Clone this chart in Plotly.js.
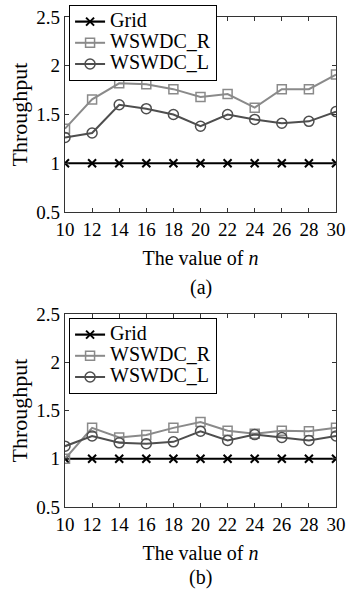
<!DOCTYPE html>
<html>
<head>
<meta charset="utf-8">
<script src="https://cdn.plot.ly/plotly-3.0.1.min.js"></script>
<style>html,body{margin:0;padding:0;background:#fff;}#chart{width:347px;height:589px;}</style>
</head>
<body>
<div id="chart"></div>
<script>
const nValues = [10, 12, 14, 16, 18, 20, 22, 24, 26, 28, 30];
const gridA = [1, 1, 1, 1, 1, 1, 1, 1, 1, 1, 1];
const wswdcRA = [1.355, 1.655, 1.82, 1.81, 1.76, 1.68, 1.71, 1.57, 1.76, 1.76, 1.91];
const wswdcLA = [1.265, 1.31, 1.60, 1.56, 1.50, 1.38, 1.50, 1.45, 1.41, 1.43, 1.53];
const gridB = [1, 1, 1, 1, 1, 1, 1, 1, 1, 1, 1];
const wswdcRB = [1.0, 1.32, 1.22, 1.245, 1.32, 1.38, 1.29, 1.26, 1.29, 1.285, 1.32];
const wswdcLB = [1.13, 1.235, 1.165, 1.155, 1.175, 1.285, 1.19, 1.25, 1.22, 1.19, 1.235];
const xTicks = [10, 12, 14, 16, 18, 20, 22, 24, 26, 28, 30];
const yTicks = [0.5, 1, 1.5, 2, 2.5];
const yTickText = ["0.5", "1", "1.5", "2", "2.5"];
const seriesNames = ["Grid", "WSWDC_R", "WSWDC_L"];
const panelLabels = ["(a)", "(b)"];
const xTitle = "The value of <i>n</i>";
const yTitle = "Throughput";

const FONT = "Liberation Serif, Times New Roman, serif";
const colors = ["#000000", "#8a8a8a", "#4e4e4e"];

function makeTraces(vals, xa, ya, leg) {
  const symbols = ["x-thin-open", "square-open", "circle-open"];
  const sizes = [8, 9, 10];
  const widths = [2.2, 2, 2];
  return vals.map((v, i) => ({
    x: nValues, y: v, type: "scatter", mode: "lines+markers",
    name: '<span style="font-size:20px">' + seriesNames[i] + '</span>',
    xaxis: xa, yaxis: ya, legend: leg,
    line: {color: colors[i], width: widths[i]},
    marker: {symbol: symbols[i], size: sizes[i], color: colors[i],
             line: {color: colors[i], width: i === 0 ? 2 : 1.5}}
  }));
}

const data = [
  ...makeTraces([gridA, wswdcRA, wswdcLA], "x", "y", "legend"),
  ...makeTraces([gridB, wswdcRB, wswdcLB], "x2", "y2", "legend2")
];

function xAxis(anchor) {
  return {
    anchor: anchor, range: [10, 30], tickvals: xTicks, ticks: "inside", ticklen: 4,
    tickcolor: "#333", showline: true, linecolor: "#333", linewidth: 1.2, mirror: "ticks",
    showgrid: false, zeroline: false, tickfont: {family: FONT, size: 19, color: "#000"},
    title: {text: xTitle, font: {family: FONT, size: 20, color: "#000"}, standoff: 12}
  };
}
function yAxis(anchor, domain) {
  return {
    anchor: anchor, domain: domain, range: [0.5, 2.5], tickvals: yTicks, ticktext: yTickText,
    ticks: "inside", ticklen: 4, tickcolor: "#333", showline: true, linecolor: "#333",
    linewidth: 1.2, mirror: "ticks", showgrid: false, zeroline: false,
    tickfont: {family: FONT, size: 19, color: "#000"},
    title: {text: yTitle, font: {family: FONT, size: 22, color: "#000"}, standoff: 2}
  };
}
function legendCfg(y) {
  return {
    x: 0.015, y: y, xanchor: "left", yanchor: "top", xref: "paper", yref: "paper",
    bgcolor: "#fff", bordercolor: "#000", borderwidth: 1,
    font: {family: FONT, size: 14, color: "#000"}, tracegroupgap: 0, itemwidth: 30
  };
}

const layout = {
  width: 347, height: 589,
  margin: {l: 65, r: 10.5, t: 17, b: 82, autoexpand: false},
  paper_bgcolor: "#fff", plot_bgcolor: "#fff",
  showlegend: true,
  xaxis: xAxis("y"),
  yaxis: yAxis("x", [0.602, 1]),
  xaxis2: xAxis("y2"),
  yaxis2: yAxis("x2", [0, 0.394]),
  legend: legendCfg(1.0245),
  legend2: legendCfg(0.3857),
  annotations: [
    {text: panelLabels[0], xref: "paper", yref: "paper", x: 0.5, y: (507 - 287) / 490,
     yanchor: "middle", showarrow: false, font: {family: FONT, size: 20, color: "#000"}},
    {text: panelLabels[1], xref: "paper", yref: "paper", x: 0.5, y: (507 - 577) / 490,
     yanchor: "middle", showarrow: false, font: {family: FONT, size: 20, color: "#000"}}
  ]
};

Plotly.newPlot("chart", data, layout, {displayModeBar: false, staticPlot: true});
</script>
</body>
</html>
